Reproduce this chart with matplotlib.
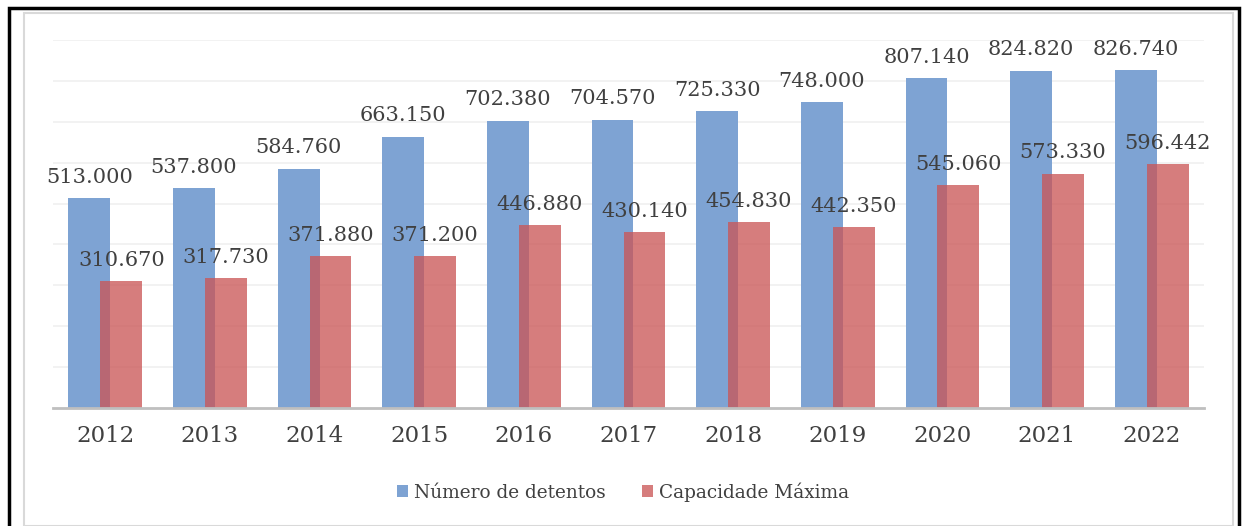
import matplotlib.pyplot as plt
from matplotlib.patches import Rectangle
import numpy as np

anos = ['2012', '2013', '2014', '2015', '2016', '2017', '2018', '2019', '2020', '2021', '2022']
detentos = [513000, 537800, 584760, 663150, 702380, 704570, 725330, 748000, 807140, 824820, 826740]
capacidade = [310670, 317730, 371880, 371200, 446880, 430140, 454830, 442350, 545060, 573330, 596442]

def fmt(v):
    return '{:,}'.format(v).replace(',', '.')

plt.rcParams['font.family'] = ['DejaVu Serif']
fig = plt.figure(figsize=(12.5, 5.26), dpi=100)
ax = fig.add_axes([0.0424, 0.2243, 0.9208, 0.6996])

x = np.arange(len(anos))
w = 0.40
off = 0.1525
b1 = ax.bar(x - off, detentos, w, color='#7ea3d3', label='Número de detentos', zorder=2)
b2 = ax.bar(x + off, capacidade, w, color='#ca5656', alpha=0.77, label='Capacidade Máxima', zorder=3)

for xi, v in zip(x, detentos):
    ax.text(xi - off, v + 28000, fmt(v), ha='center', va='bottom', fontsize=15, color='#404040', zorder=4)
for xi, v in zip(x, capacidade):
    ax.text(xi + off, v + 28000, fmt(v), ha='center', va='bottom', fontsize=15, color='#404040', zorder=4)

ax.set_ylim(0, 900000)
ax.set_xlim(-0.5, len(anos) - 0.5)
ax.set_yticks(np.arange(100000, 900001, 100000))
ax.yaxis.grid(True, color='#f0f0f0', lw=1.2, zorder=0)
ax.tick_params(axis='y', left=False, labelleft=False)
ax.set_xticks(x)
ax.set_xticklabels(anos, fontsize=16.5, color='#404040')
ax.tick_params(axis='x', length=0, pad=12)
for s in ['top', 'right', 'left']:
    ax.spines[s].set_visible(False)
ax.spines['bottom'].set_color('#bfbfbf')
ax.spines['bottom'].set_linewidth(2)
ax.spines['bottom'].set_zorder(5)

leg = fig.legend(handles=[b1, b2], loc='center', bbox_to_anchor=(0.4985, 0.065), ncol=2, frameon=False,
                 fontsize=13.3, handlelength=0.6, handleheight=0.6, handletextpad=0.3, columnspacing=2.0)
for t in leg.get_texts():
    t.set_color('#404040')

# bordas da figura
fig.patches.append(Rectangle((24 / 1250, 0.5 / 526), (1233 - 24) / 1250, (513.5 - 0.5) / 526,
                             transform=fig.transFigure, fill=False, ec='#d9d9d9', lw=1.5))
fig.patches.append(Rectangle((9 / 1250, -5 / 526), (1239 - 9) / 1250, (518 + 5) / 526,
                             transform=fig.transFigure, fill=False, ec='black', lw=2.5))

plt.savefig('out.png', dpi=100)
